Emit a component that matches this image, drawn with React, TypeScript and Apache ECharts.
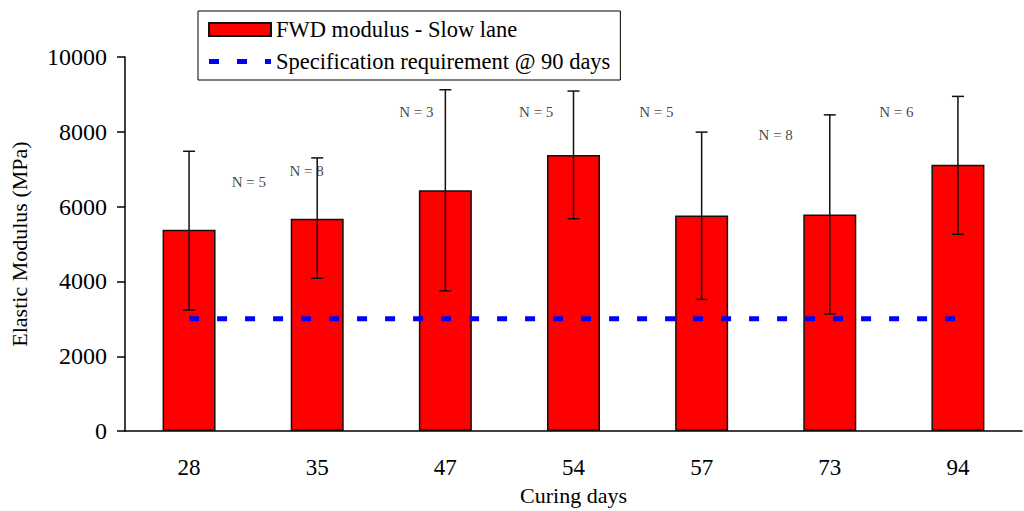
import React, { useEffect, useRef } from "react";
import * as echarts from "echarts";

const categories = ["28", "35", "47", "54", "57", "73", "94"];
const modulusMean = [5385, 5676, 6438, 7382, 5764, 5791, 7117];
const errLow = [3236, 4085, 3748, 5676, 3520, 3130, 5260];
const errHigh = [7480, 7303, 9125, 9090, 7992, 8453, 8947];
const specRequirement = [3000, 3000, 3000, 3000, 3000, 3000, 3000];
const nCounts = [5, 8, 3, 5, 5, 8, 6];
const yTicks = { min: 0, max: 10000, interval: 2000 };

// annotation anchors (category-index units, MPa)
const nLabelX = [0.466, 0.917, 1.774, 2.709, 3.647, 4.578, 5.52];
const nLabelY = [6658, 6950, 8541, 8541, 8541, 7905, 8541];

const FONT = "'Liberation Serif', 'Times New Roman', serif";
const DASH_ICON = "path://M0,0h10v5h-10z M28,0h10v5h-10z M56,0h6v5h-6z";

export default function App() {
  const ref = useRef<HTMLDivElement>(null);
  useEffect(() => {
    if (!ref.current) return;
    const chart = echarts.init(ref.current, undefined, { renderer: "svg" });
    const option: any = {
      animation: false,
      backgroundColor: "#fff",
      textStyle: { fontFamily: FONT },
      grid: { left: 123, right: 2, top: 57, bottom: 77, containLabel: false },
      legend: {
        left: 198,
        top: 11,
        orient: "vertical",
        borderColor: "#000",
        borderWidth: 1,
        borderRadius: 0,
        padding: [7, 10, 7, 10],
        itemGap: 9,
        itemWidth: 62,
        itemHeight: 13,
        symbolKeepAspect: true,
        textStyle: { fontFamily: FONT, fontSize: 22.5, color: "#000" },
        data: [
          { name: "FWD modulus - Slow lane", icon: "rect" },
          { name: "Specification requirement @ 90 days", icon: DASH_ICON },
        ],
      },
      xAxis: [
        {
          type: "category",
          data: categories,
          name: "Curing days",
          nameLocation: "middle",
          nameGap: 50,
          nameTextStyle: { fontFamily: FONT, fontSize: 22, color: "#000" },
          axisLine: { lineStyle: { color: "#000", width: 1.5 } },
          axisTick: { show: false },
          axisLabel: { fontFamily: FONT, fontSize: 23, color: "#000", margin: 25 },
          splitLine: { show: false },
        },
        {
          type: "value",
          min: -0.5,
          max: 6.5,
          show: false,
        },
      ],
      yAxis: {
        type: "value",
        min: yTicks.min,
        max: yTicks.max,
        interval: yTicks.interval,
        name: "Elastic Modulus (MPa)",
        nameLocation: "middle",
        nameGap: 95,
        nameTextStyle: { fontFamily: FONT, fontSize: 22, color: "#000" },
        axisLine: { show: true, onZero: false, lineStyle: { color: "#000", width: 1.5 } },
        axisTick: { show: true, length: 8, lineStyle: { color: "#000", width: 1.5 } },
        axisLabel: {
          fontFamily: FONT,
          fontSize: 24,
          color: "#000",
          margin: 18,
          formatter: (v: number) => String(v),
        },
        splitLine: { show: false },
      },
      series: [
        {
          name: "FWD modulus - Slow lane",
          type: "bar",
          data: modulusMean,
          barWidth: 53,
          itemStyle: { color: "#ff0000", borderColor: "#111", borderWidth: 1.5 },
          z: 2,
        },
        {
          name: "Specification requirement @ 90 days",
          type: "line",
          data: specRequirement,
          symbol: "none",
          itemStyle: { color: "#0000ff" },
          lineStyle: { color: "#0000ff", width: 5, type: [10, 18] },
          z: 5,
        },
        {
          name: "errors",
          type: "custom",
          data: categories.map((_, i) => [i, errLow[i], errHigh[i]]),
          encode: { x: 0, y: [1, 2] },
          z: 4,
          renderItem: (params: any, api: any) => {
            const i = api.value(0);
            const lo = api.coord([i, api.value(1)]);
            const hi = api.coord([i, api.value(2)]);
            const cap = 6;
            const style = { stroke: "#111", lineWidth: 1.5 };
            return {
              type: "group",
              children: [
                { type: "line", shape: { x1: lo[0], y1: lo[1], x2: hi[0], y2: hi[1] }, style },
                { type: "line", shape: { x1: hi[0] - cap, y1: hi[1], x2: hi[0] + cap, y2: hi[1] }, style },
                { type: "line", shape: { x1: lo[0] - cap, y1: lo[1], x2: lo[0] + cap, y2: lo[1] }, style },
              ],
            };
          },
        },
        {
          name: "nlabels",
          type: "scatter",
          xAxisIndex: 1,
          symbolSize: 0,
          data: nCounts.map((n, i) => [nLabelX[i], nLabelY[i], n]),
          label: {
            show: true,
            position: "inside",
            formatter: (p: any) => "N = " + p.value[2],
            fontFamily: FONT,
            fontSize: 15,
            color: "#111",
          },
          z: 6,
        },
      ],
    };
    chart.setOption(option);
    return () => chart.dispose();
  }, []);
  return (
    <div
      ref={ref}
      style={{ position: "fixed", left: 0, top: 0, width: 1024, height: 511 }}
    />
  );
}
